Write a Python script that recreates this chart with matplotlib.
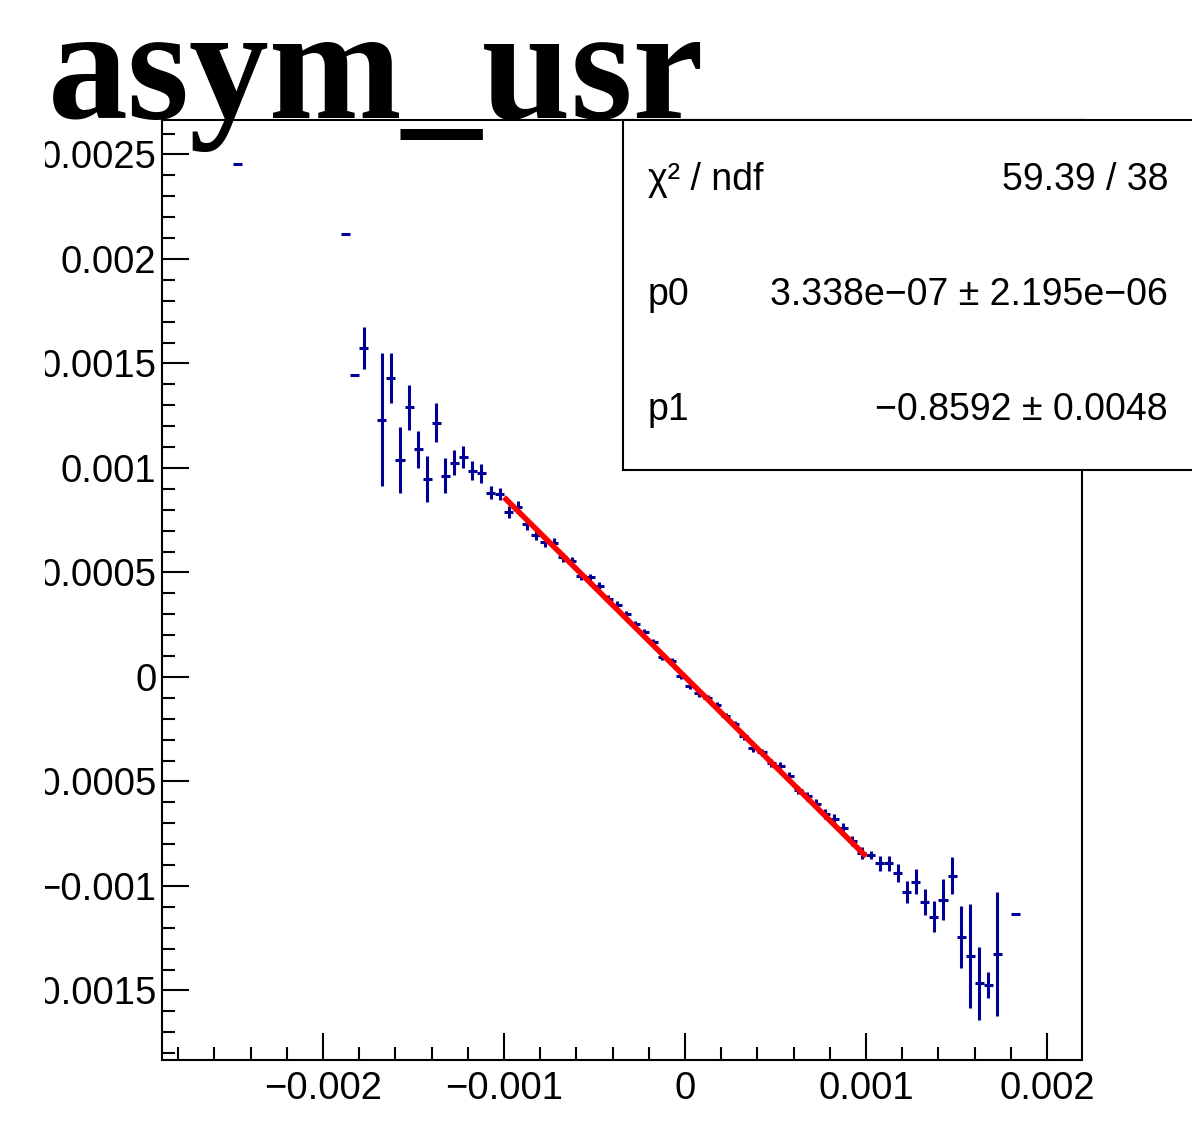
import numpy as np
import matplotlib.pyplot as plt
from matplotlib.patches import Rectangle
from matplotlib.ticker import MultipleLocator, FuncFormatter
from matplotlib.transforms import Bbox, TransformedBbox

# bin centres (bin width 5e-5)
x_left = [-0.002475, -0.001875, -0.001825, -0.001775, -0.001675, -0.001625,
          -0.001575, -0.001525, -0.001475, -0.001425, -0.001375, -0.001325,
          -0.001275, -0.001225, -0.001175, -0.001125, -0.001075, -0.001025]
y_left = [0.002453, 0.002121, 0.001445, 0.001573, 0.001230, 0.001432,
          0.001038, 0.001290, 0.001089, 0.000947, 0.001217, 0.000963,
          0.001025, 0.001054, 0.000987, 0.000975, 0.000882, 0.000876]
e_left = [0.0, 0.0, 0.0, 0.000100, 0.000318, 0.000120,
          0.000159, 0.000106, 0.000088, 0.000108, 0.000094, 0.000084,
          0.000060, 0.000053, 0.000047, 0.000045, 0.000030, 0.000030]

x_mid = [-0.000975, -0.000925, -0.000875, -0.000825, -0.000775, -0.000725,
         -0.000675, -0.000625, -0.000575, -0.000525, -0.000475, -0.000425,
         -0.000375, -0.000325, -0.000275, -0.000225, -0.000175, -0.000125,
         -0.000075, -0.000025, 0.000025, 0.000075, 0.000125, 0.000175,
         0.000225, 0.000275, 0.000325, 0.000375, 0.000425, 0.000475,
         0.000525, 0.000575, 0.000625, 0.000675, 0.000725, 0.000775,
         0.000825, 0.000875, 0.000925, 0.000975]
y_mid = [0.000790, 0.000815, 0.000730, 0.000681, 0.000646, 0.000643,
         0.000572, 0.000555, 0.000484, 0.000476, 0.000436, 0.000375,
         0.000344, 0.000299, 0.000254, 0.000215, 0.000165, 0.000097,
         0.000076, 0.000003, -0.000043, -0.000079, -0.000102, -0.000135,
         -0.000188, -0.000226, -0.000284, -0.000342, -0.000360, -0.000413,
         -0.000426, -0.000474, -0.000542, -0.000572, -0.000608, -0.000656,
         -0.000679, -0.000722, -0.000785, -0.000843]
e_mid = [0.000028, 0.000026, 0.000025, 0.000024, 0.000023, 0.000022,
         0.000021, 0.000020, 0.000019, 0.000018, 0.000018, 0.000017,
         0.000017, 0.000016, 0.000016, 0.000015, 0.000015, 0.000015,
         0.000015, 0.000015, 0.000015, 0.000015, 0.000015, 0.000015,
         0.000015, 0.000016, 0.000016, 0.000017, 0.000017, 0.000018,
         0.000018, 0.000019, 0.000020, 0.000021, 0.000022, 0.000023,
         0.000024, 0.000025, 0.000026, 0.000028]

x_right = [0.001025, 0.001075, 0.001125, 0.001175, 0.001225, 0.001275,
           0.001325, 0.001375, 0.001425, 0.001475, 0.001525, 0.001575,
           0.001625, 0.001675, 0.001725, 0.001825]
y_right = [-0.000852, -0.000891, -0.000891, -0.000939, -0.001030, -0.000979,
           -0.001078, -0.001147, -0.001067, -0.000952, -0.001245, -0.001335,
           -0.001466, -0.001474, -0.001325, -0.001134]
e_right = [0.000020, 0.000036, 0.000036, 0.000042, 0.000052, 0.000060,
           0.000062, 0.000073, 0.000098, 0.000088, 0.000149, 0.000247,
           0.000176, 0.000060, 0.000297, 0.0]

bin_width = 0.00005

# fit result
fit_range = [-0.001, 0.001]
p0, p1 = 3.338e-07, -0.8592
stats_labels = ['χ² / ndf', 'p0', 'p1']
stats_values = ['59.39 / 38', '3.338e−07 ± 2.195e−06', '−0.8592 ± 0.0048']

x = np.array(x_left + x_mid + x_right)
y = np.array(y_left + y_mid + y_right)
yerr = np.array(e_left + e_mid + e_right)

W, H = 1192, 1121
fig = plt.figure(figsize=(W / 100, H / 100), dpi=100)
ax = fig.add_axes([162 / W, 1 - 1060 / H, (1082 - 162) / W, (1060 - 120) / H])

ax.errorbar(x, y, xerr=bin_width / 2, yerr=yerr, fmt='none',
            ecolor='#000099', elinewidth=2.2, capsize=0, zorder=3)
fx = np.array(fit_range)
ax.plot(fx, p0 + p1 * fx, color='red', lw=4, zorder=4, solid_capstyle='butt')

ax.set_xlim(-0.00289, 0.002193)
ax.set_ylim(-0.001833, 0.002665)

fmt = FuncFormatter(lambda v, pos: ('%g' % round(v, 6)).replace('-', '\u2212') if abs(v) > 1e-12 else '0')
ax.xaxis.set_major_locator(MultipleLocator(0.001))
ax.xaxis.set_minor_locator(MultipleLocator(0.0002))
ax.yaxis.set_major_locator(MultipleLocator(0.0005))
ax.yaxis.set_minor_locator(MultipleLocator(0.0001))
ax.xaxis.set_major_formatter(fmt)
ax.yaxis.set_major_formatter(fmt)
ax.tick_params(which='both', direction='in', top=False, right=False, width=1.5)
ax.tick_params(which='major', length=19.5)
ax.tick_params(which='minor', length=9.5)
ax.tick_params(axis='x', pad=8)
ax.tick_params(axis='y', pad=4)
for lab in ax.get_xticklabels() + ax.get_yticklabels():
    lab.set_fontfamily('Liberation Sans')
    lab.set_fontsize(27.5)
for s in ax.spines.values():
    s.set_linewidth(1.5)

# title
fig.text(48 / W, 1 - 118 / H, 'asym_usr', family='Liberation Serif',
         weight='bold', fontsize=115, va='baseline', ha='left', zorder=10)

# stats box
box = Rectangle((623 / W, 1 - 470 / H), 0.6, (470 - 120) / H,
                transform=fig.transFigure, facecolor='white',
                edgecolor='black', lw=1.5, zorder=20)
fig.add_artist(box)
rows_y = [180, 295, 410]
for lab, val, ry in zip(stats_labels, stats_values, rows_y):
    fig.text(648 / W, 1 - ry / H, lab, family='Liberation Sans', fontsize=27,
             va='center', ha='left', zorder=21)
    fig.text(1168 / W, 1 - ry / H, val, family='Liberation Sans', fontsize=27,
             va='center', ha='right', zorder=21)

# y labels are cut at the left like in the original canvas
fig.canvas.draw()
clip = TransformedBbox(Bbox([[45 / W, 0], [1, 1]]), fig.transFigure)
for t in ax.yaxis.get_major_ticks():
    t.label1.set_clip_box(clip)
    t.label1.set_clip_on(True)

fig.savefig('out.png', dpi=100)
